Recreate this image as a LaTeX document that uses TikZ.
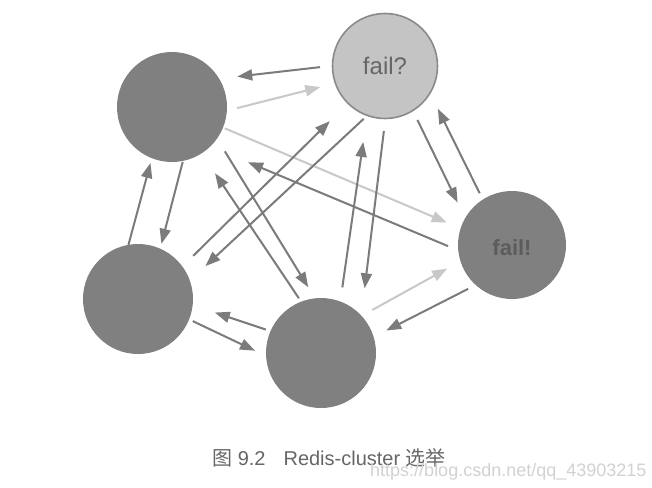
\documentclass[tikz,border=0pt]{standalone}
\usepackage{fontspec}
\setmainfont{Liberation Sans}
\newfontfamily\cjkfont{Noto Sans CJK SC}
\usetikzlibrary{arrows.meta}

\begin{document}
\begin{tikzpicture}[x=1pt,y=-1pt,
  hub/.style={circle,fill=hubGray,minimum size=110pt,inner sep=0pt},
  suspect/.style={hub,fill=suspectGray,draw=suspectEdge,line width=1.6pt,minimum size=105pt},
  vote/.style={line width=2pt,draw=voteDark,-{Triangle[length=15pt,width=11pt]}},
  ask/.style={vote,draw=voteLight}]
\definecolor{hubGray}{HTML}{808080}
\definecolor{suspectGray}{HTML}{C4C4C4}
\definecolor{suspectEdge}{HTML}{8A8A8A}
\definecolor{voteDark}{HTML}{7B7B7B}
\definecolor{voteLight}{HTML}{C8C8C8}
\definecolor{labelGray}{HTML}{666666}
\definecolor{markGray}{HTML}{D2D2D2}
\useasboundingbox[fill=white] (0,0) rectangle (652,487);
\node[hub] (tl) at (172,107) {};
\node[suspect] (fq) at (385,66) {};
\node[hub,minimum size=108pt] (fx) at (512,245) {};
\node[hub] (bl) at (138,299) {};
\node[hub] (bm) at (321,353) {};
\node[text=labelGray,font=\fontsize{24}{28}\selectfont] at (fq) {fail?};
\node[text=labelGray!90!black,font=\fontsize{22}{26}\selectfont\bfseries] at (512,248) {fail!};
\foreach \from/\fa/\fd/\to/\ta/\td in {tl/-1/65/fq/198/68,tl/-22/57/fx/161/69,bm/40/67/fx/200/69}
  \draw[ask] ([shift={(\fa:\fd pt)}]\from.center) -- ([shift={(\ta:\td pt)}]\to.center);
\foreach \from/\fa/\fd/\to/\ta/\td in {fq/181/65/tl/25/72,fx/181/64/tl/-36/94,bl/38/70/fq/225/78,
  fq/248/57/bl/26/75,tl/-40/69/bm/101/67,bm/112/59/tl/-57/79,bm/72/69/fq/254/79,fq/269/65/bm/56/78,
  fq/-59/63/fx/142/69,fx/122/61/fq/-39/68,fx/225/62/bm/19/69,bl/100/55/tl/249/60,tl/-79/56/bl/67/60,
  bm/157/60/bl/-10/78,bl/-22/59/bm/178/66}
  \draw[vote] ([shift={(\fa:\fd pt)}]\from.center) -- ([shift={(\ta:\td pt)}]\to.center);
\node[anchor=base west,text=labelGray,font=\fontsize{20}{24}\selectfont,inner sep=0pt] (cap) at (212,465)
  {{\cjkfont 图} 9.2\hspace{0.9em}Redis-cluster {\cjkfont 选举}};
\node[anchor=base west,text=markGray,font=\fontsize{18}{22}\selectfont,inner sep=0pt] (mark) at (370,476)
  {https://blog.csdn.net/qq\_43903215};
\end{tikzpicture}
\end{document}
